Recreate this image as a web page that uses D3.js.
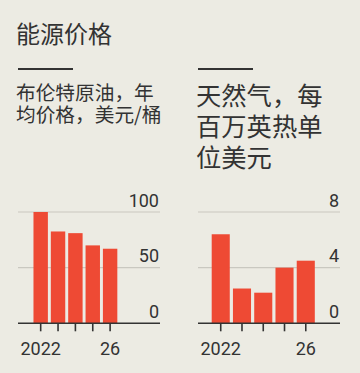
<!DOCTYPE html>
<html lang="zh">
<head>
<meta charset="UTF-8">
<title>能源价格</title>
<style>
  * { box-sizing: border-box; }
  body { margin: 0; background: #ecebe3; }
  svg { display: block; }
  .cjk { font-family: "Noto Sans CJK SC", sans-serif; fill: #333; }
  .num { font-family: Roboto, "Liberation Sans", sans-serif; font-size: 18px; fill: #333; }
</style>
</head>
<body>
<svg id="chart" width="360" height="373"></svg>
<script src="https://d3js.org/d3.v7.min.js"></script>
<script>
// data
var years = [2022, 2023, 2024, 2025, 2026];
var brent = [100, 82.5, 81, 70, 67];
var gas = [6.4, 2.5, 2.2, 4.0, 4.5];
var brentTicks = [0, 50, 100];
var gasTicks = [0, 4, 8];
var yearLabels = {2022: '2022', 2026: '26'};

var svg = d3.select('#chart');
svg.append('rect').attr('width', 360).attr('height', 373).attr('fill', '#ecebe3');

svg.append('text').attr('class', 'cjk').attr('x', 16).attr('y', 43)
  .style('font-size', '24px').text('能源价格');

function drawPanel(opt) {
  var g = svg.append('g');
  // short rule above subtitle
  g.append('line').attr('x1', opt.left).attr('x2', opt.left + 55)
    .attr('y1', 69).attr('y2', 69).attr('stroke', '#333').attr('stroke-width', 2);
  opt.subtitle.forEach(function (s, i) {
    g.append('text').attr('class', 'cjk')
      .attr('x', opt.left - 2).attr('y', opt.subY + i * opt.subStep)
      .style('font-size', opt.subSize + 'px').text(s);
  });

  var y = d3.scaleLinear().domain([0, opt.max]).range([323.3, 212]);
  var x = d3.scaleBand().domain(years).range(opt.xr)
    .paddingInner(opt.pad).paddingOuter(opt.pad / 2);

  // gridlines + labels
  opt.ticks.forEach(function (t) {
    if (t > 0) {
      g.append('line').attr('x1', opt.left).attr('x2', opt.right)
        .attr('y1', y(t)).attr('y2', y(t))
        .attr('stroke', '#c9c8c0').attr('stroke-width', 1.2);
    }
    g.append('text').attr('class', 'num').attr('text-anchor', 'end')
      .attr('x', opt.right - 1).attr('y', y(t) - 5.5).text(t);
  });

  g.selectAll('rect.bar').data(opt.values).enter().append('rect')
    .attr('class', 'bar')
    .attr('x', function (d, i) { return x(years[i]); })
    .attr('width', x.bandwidth())
    .attr('y', function (d) { return y(d); })
    .attr('height', function (d) { return y(0) - y(d); })
    .attr('fill', '#ee4a34');

  // baseline and ticks
  g.append('line').attr('x1', opt.left).attr('x2', opt.right)
    .attr('y1', y(0)).attr('y2', y(0)).attr('stroke', '#333').attr('stroke-width', 1.6);
  years.forEach(function (yr) {
    var cx = x(yr) + x.bandwidth() / 2;
    g.append('line').attr('x1', cx).attr('x2', cx)
      .attr('y1', y(0)).attr('y2', y(0) + 8).attr('stroke', '#333').attr('stroke-width', 1.6);
    if (yearLabels[yr]) {
      g.append('text').attr('class', 'num').attr('text-anchor', 'middle')
        .attr('x', cx).attr('y', 355).text(yearLabels[yr]);
    }
  });
}

drawPanel({
  left: 18, right: 160, xr: [32, 118.8], pad: 0.17,
  max: 100, ticks: brentTicks, values: brent,
  subtitle: ['布伦特原油，年', '均价格，美元/桶'], subY: 100, subStep: 21.5, subSize: 19.7
});
drawPanel({
  left: 198, right: 340, xr: [210.1, 316.4], pad: 0.15,
  max: 8, ticks: gasTicks, values: gas,
  subtitle: ['天然气，每', '百万英热单', '位美元'], subY: 105, subStep: 31, subSize: 25.3
});
</script>
</body>
</html>
